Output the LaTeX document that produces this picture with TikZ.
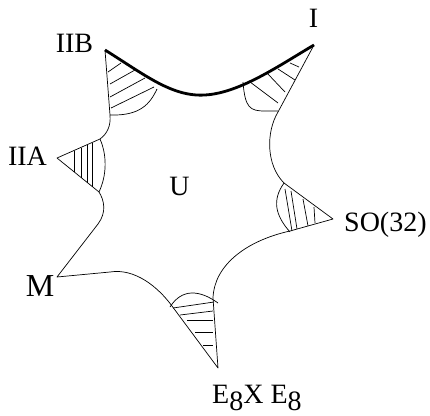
\documentclass[tikz,border=0pt]{standalone}
\usepackage{fontspec}
\setmainfont{Liberation Serif}

\begin{document}
\begin{tikzpicture}[x=1pt,y=-1pt,
  edge/.style={line width=0.7pt,line join=round},
  bold/.style={line width=2.8pt},
  hatch/.style={line width=0.7pt},
  lbl/.style={inner sep=0pt,anchor=base,font=\fontsize{28}{32}\selectfont}]
\useasboundingbox (0,0) rectangle (430,415);
% tips of the six spikes
\coordinate (tipIIB) at (105,50);
\coordinate (tipI) at (314,45);
\coordinate (tipIIA) at (57,158);
\coordinate (tipM) at (57,277);
\coordinate (tipSO) at (333,219);
\coordinate (tipE) at (218,368);
% thin outline of the region, IIB round to I
\draw[edge] (tipIIB) -- (110,115) .. controls (111,126) and (107,134) .. (100,139)
  -- (tipIIA) -- (99,192) .. controls (104,200) and (107,212) .. (98,224)
  -- (tipM) -- (110,272) .. controls (135,268) and (158,287) .. (172,306)
  -- (tipE) -- (213,298) .. controls (214,266) and (245,241) .. (290,231)
  -- (tipSO) -- (284,183) .. controls (266,165) and (266,132) .. (278,112)
  -- (tipI);
% bold edge from IIB to I
\draw[bold] (tipIIB) .. controls (145,75) and (172,97) .. (205,95)
  .. controls (240,93) and (280,65) .. (tipI);
% caps closing the hatched corners
\draw[edge] (110,115) .. controls (140,116) and (150,104) .. (157,89);
\draw[edge] (243,82) .. controls (245,108) and (250,111) .. (265,111) -- (278,111);
\draw[edge] (100,139) .. controls (107,155) and (107,175) .. (99,192);
\draw[edge] (284,183) .. controls (272,200) and (275,215) .. (290,232);
\draw[edge] (170,307) .. controls (182,288) and (200,290) .. (218,303);
% hatching, IIB corner
\draw[hatch] (108,72) -- (121,63);
\draw[hatch] (110,84) -- (135,70);
\draw[hatch] (110,97) -- (145,78);
\draw[hatch] (111,108) -- (154,87);
% hatching, I corner
\draw[hatch] (290,63) -- (299,67);
\draw[hatch] (278,69) -- (295,80);
\draw[hatch] (267,73) -- (285,92);
\draw[hatch] (250,82) -- (278,103);
% hatching, IIA corner
\draw[hatch] (74,151) -- (74,172);
\draw[hatch] (81,148) -- (81,178);
\draw[hatch] (87,145) -- (87,183);
\draw[hatch] (92,143) -- (92,187);
% hatching, SO(32) corner
\draw[hatch] (285,189) -- (292,231);
\draw[hatch] (291,191) -- (297,229);
\draw[hatch] (303,199) -- (308,226);
\draw[hatch] (314,207) -- (315,223);
% hatching, E8 x E8 corner
\draw[hatch] (173,308) -- (214,302);
\draw[hatch] (180,315) -- (213,311);
\draw[hatch] (187,320) -- (213,320);
\draw[hatch] (195,332) -- (213,332);
\draw[hatch] (203,345) -- (213,345);
% labels
\node[lbl] (labIIB) at (74.5,52) {IIB};
\node[lbl] (labI) at (313.5,27) {I};
\node[lbl] (labIIA) at (27.5,165) {IIA};
\node[lbl,font=\fontsize{32}{36}\selectfont] (labM) at (40,296) {M};
\node[lbl] (labU) at (179.5,195) {U};
\node[lbl,anchor=base west] (labSO) at (344,231) {SO(32)};
\node[lbl,anchor=base west] (labE) at (212,403) {E\raisebox{-7pt}{8}X E\raisebox{-7pt}{8}};
\end{tikzpicture}
\end{document}
